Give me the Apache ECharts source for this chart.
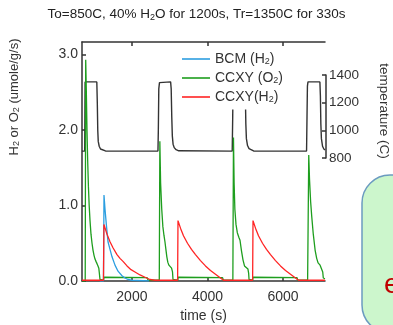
<!DOCTYPE html>
<html><head><meta charset="utf-8">
<script src="https://cdn.jsdelivr.net/npm/echarts@6.0.0/dist/echarts.min.js"></script>
<style>html,body{margin:0;padding:0;background:#fff}#c{width:393px;height:325px}</style>
</head><body><div id="c"></div>
<script>
// ---- data ----
const xTickValues = [2000, 4000, 6000];
const yTickValues = [0, 1, 2, 3];
const tempTickValues = [800, 1000, 1200, 1400];

const tempTime = [680, 752, 762, 1072, 1085, 1097, 1110, 1135, 1170, 1220, 1300,
  2690, 2700, 2712, 2730, 2745, 3025, 3040, 3055, 3070, 3090, 3120, 3170, 3240,
  4655, 4668, 4678, 4692, 4990, 5003, 5015, 5030, 5060, 5100, 5150, 5220,
  6622, 6634, 6645, 6660, 6975, 6988, 7000, 7015, 7045, 7080, 7110];
const tempValue = [850, 850, 1350, 1350, 1200, 1000, 920, 885, 865, 856, 851,
  850, 1000, 1300, 1345, 1350, 1350, 1300, 1100, 960, 900, 875, 860, 852,
  850, 1100, 1320, 1350, 1350, 1250, 1050, 940, 890, 868, 857, 851,
  850, 1100, 1320, 1350, 1350, 1250, 1050, 940, 885, 865, 858];

const o2Time = [680, 765, 778, 795, 812, 830, 850, 870, 892, 918,
  945, 971, 998, 1024, 1050, 1077, 1103, 1125, 1140, 1156,
  1250, 1262, 2400, 2430,
  2725, 2740, 2760, 2790, 2820, 2850, 2875, 2900, 2925, 2950,
  2980, 3020, 3050, 3075, 3088, 3215, 3225, 4400, 4420,
  4672, 4688, 4705, 4725, 4755, 4790, 4830, 4861, 4900, 4940,
  4980, 5030, 5070, 5090, 5100, 5195, 5205, 6370, 6390,
  6650, 6680, 6700, 6730, 6760, 6800, 6848, 6890, 6927, 6980,
  7025, 7050, 7065, 7110];
const o2Value = [0, 0, 2.93, 2.5, 2.0, 1.6, 1.25, 1.0, 0.8, 0.62,
  0.5, 0.41, 0.34, 0.29, 0.26, 0.23, 0.2, 0.17, 0.1, 0.02,
  0.01, 0.05, 0.045, 0.01,
  0.01, 1.85, 1.3, 0.95, 0.72, 0.6, 0.52, 0.42, 0.32, 0.25,
  0.21, 0.19, 0.17, 0.12, 0.02, 0.01, 0.05, 0.045, 0.01,
  0.01, 1.9, 1.3, 0.95, 0.75, 0.64, 0.58, 0.54, 0.4, 0.28,
  0.2, 0.18, 0.16, 0.1, 0.02, 0.01, 0.05, 0.045, 0.01,
  0.01, 1.67, 1.35, 1.05, 0.85, 0.62, 0.41, 0.3, 0.24, 0.21,
  0.19, 0.12, 0.04, 0.03];

const h2Time = [680, 1248, 1260, 1342, 1421, 1500, 1606, 1685, 1765, 1871,
  1977, 2082, 2215, 2347, 2479, 2612, 3210, 3220, 3286, 3365,
  3471, 3577, 3683, 3815, 3947, 4080, 4212, 4344, 4423, 5195,
  5205, 5271, 5350, 5456, 5562, 5668, 5800, 5932, 6065, 6197,
  6329, 6409, 7110];
const h2Value = [0.01, 0.01, 0.75, 0.62, 0.52, 0.44, 0.35, 0.3, 0.26, 0.2,
  0.15, 0.12, 0.08, 0.05, 0.02, 0.01, 0.01, 0.8, 0.7, 0.6,
  0.5, 0.42, 0.35, 0.27, 0.2, 0.14, 0.09, 0.04, 0.01, 0.01,
  0.8, 0.7, 0.6, 0.5, 0.42, 0.35, 0.27, 0.2, 0.14, 0.09,
  0.04, 0.01, 0.01];

const bcmTime = [1150, 1248, 1262, 1289, 1315, 1333, 1368, 1421, 1474, 1553, 1633, 1738, 1818, 1897, 2000, 2450];
const bcmValue = [0, 0, 1.14, 0.95, 0.8, 0.7, 0.52, 0.42, 0.32, 0.21, 0.13, 0.07, 0.04, 0.02, 0.01, 0];

const seriesNames = ['BCM (H2)', 'CCXY (O2)', 'CCXY(H2)'];
const seriesLabels = ['BCM (H{s|2})', 'CCXY (O{s|2})', 'CCXY(H{s|2})'];

// ---- chart ----
const zip = (a, b) => a.map((t, i) => [t, b[i]]);
const FONT = '"Liberation Sans", Arial, sans-serif';
const AX = '#333';
const sub = { s: { fontSize: 9, verticalAlign: 'bottom', padding: [6, 0, 0, 0], fontFamily: FONT } };

const chart = echarts.init(document.getElementById('c'), null, { renderer: 'canvas' });
const axisLineStyle = { color: AX, width: 1.5 };
chart.setOption({
  animation: false,
  backgroundColor: '#fff',
  textStyle: { fontFamily: FONT },
  title: {
    text: 'To=850C, 40% H{s|2}O for 1200s, Tr=1350C for 330s',
    left: 'center', top: 2,
    textStyle: { fontSize: 13.5, fontWeight: 'normal', color: '#222', fontFamily: FONT, rich: sub }
  },
  grid: [
    { left: 82, right: 68, top: 42, bottom: 44, outerBoundsMode: 'none', containLabel: false },
    { left: 82, right: 68, top: 75, bottom: 167, outerBoundsMode: 'none', containLabel: false }
  ],
  xAxis: [
    { gridIndex: 0, type: 'value', min: 680, max: 7110, position: 'bottom',
      axisLine: { show: true, lineStyle: axisLineStyle },
      axisTick: { show: true, inside: true, length: 4, customValues: xTickValues, lineStyle: axisLineStyle },
      axisLabel: { customValues: xTickValues, fontSize: 14, color: AX, margin: 9, formatter: v => String(v) },
      splitLine: { show: false },
      name: 'time (s)', nameLocation: 'middle', nameGap: 28,
      nameTextStyle: { fontSize: 14, color: AX } },
    { gridIndex: 0, type: 'value', min: 680, max: 7110, position: 'top',
      axisLine: { show: true, lineStyle: axisLineStyle },
      axisTick: { show: true, inside: true, length: 4, customValues: xTickValues, lineStyle: axisLineStyle },
      axisLabel: { show: false }, splitLine: { show: false } },
    { gridIndex: 1, type: 'value', min: 680, max: 7110, show: false }
  ],
  yAxis: [
    { gridIndex: 0, type: 'value', min: 0, max: 3.166,
      axisLine: { show: true, lineStyle: axisLineStyle },
      axisTick: { show: true, inside: true, length: 4, customValues: yTickValues, lineStyle: axisLineStyle },
      axisLabel: { customValues: yTickValues, fontSize: 14, color: AX, margin: 4, formatter: v => v.toFixed(1) },
      splitLine: { show: false } },
    { gridIndex: 1, type: 'value', position: 'right', offset: 1, min: 800, max: 1400, interval: 200,
      axisLine: { show: true, lineStyle: axisLineStyle },
      axisTick: { show: true, inside: true, length: 4, customValues: tempTickValues, lineStyle: axisLineStyle },
      axisLabel: { customValues: tempTickValues, fontSize: 13.5, color: AX, margin: 3, formatter: v => String(v) },
      splitLine: { show: false } }
  ],
  legend: {
    data: seriesNames, orient: 'vertical', left: 180, top: 50,
    icon: 'rect', itemWidth: 28, itemHeight: 1.6, itemGap: 4.5, padding: [2, 4, 5, 2],
    backgroundColor: '#fff',
    formatter: n => seriesLabels[seriesNames.indexOf(n)],
    textStyle: { fontSize: 14, color: AX, fontFamily: FONT, rich: sub }
  },
  series: [
    { name: 'temperature', type: 'line', xAxisIndex: 2, yAxisIndex: 1, data: zip(tempTime, tempValue),
      symbol: 'none', color: '#333', lineStyle: { width: 1.4 }, z: 1 },
    { name: seriesNames[1], type: 'line', xAxisIndex: 0, yAxisIndex: 0, data: zip(o2Time, o2Value),
      symbol: 'none', color: '#1e9e1e', lineStyle: { width: 1.3 }, z: 2 },
    { name: seriesNames[0], type: 'line', xAxisIndex: 0, yAxisIndex: 0, data: zip(bcmTime, bcmValue),
      symbol: 'none', color: '#2c9ee0', lineStyle: { width: 1.3 }, z: 3 },
    { name: seriesNames[2], type: 'line', xAxisIndex: 0, yAxisIndex: 0, data: zip(h2Time, h2Value),
      symbol: 'none', color: '#ff2424', lineStyle: { width: 1.3 }, z: 4 }
  ],
  graphic: [
    { type: 'text', x: 14, y: 97, rotation: Math.PI / 2,
      style: { text: 'H{s|2} or O{s|2} (umole/g/s)', rich: sub, fontSize: 13, fontFamily: FONT, fill: AX,
        align: 'center', verticalAlign: 'middle', textAlign: 'center', textVerticalAlign: 'middle' } },
    { type: 'text', x: 384, y: 111, rotation: -Math.PI / 2,
      style: { text: 'temperature (C)', fontSize: 13.5, fontFamily: FONT, fill: AX,
        align: 'center', verticalAlign: 'middle', textAlign: 'center', textVerticalAlign: 'middle' } },
    { type: 'rect', shape: { x: 362, y: 175, width: 100, height: 158, r: 28 },
      style: { fill: '#ccf6cc', stroke: '#6b9bc0', lineWidth: 1.5 } },
    { type: 'text', x: 384, y: 285,
      style: { text: 'e', fontSize: 28, fontFamily: FONT, fill: '#c00000',
        align: 'left', verticalAlign: 'middle', textAlign: 'left', textVerticalAlign: 'middle' } }
  ]
});
</script>
</body></html>
